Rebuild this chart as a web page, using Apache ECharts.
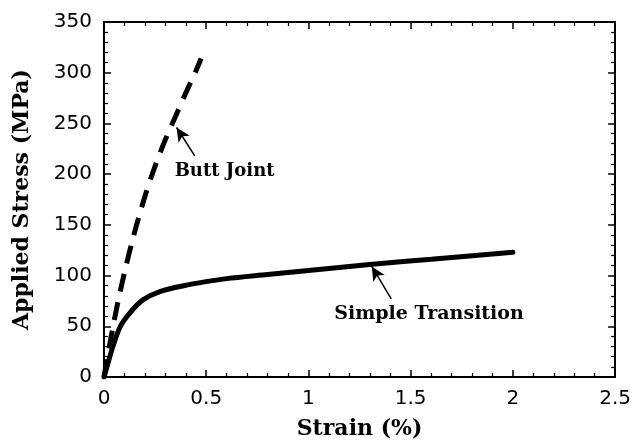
<!DOCTYPE html>
<html>
<head>
<meta charset="utf-8">
<script src="https://cdn.jsdelivr.net/npm/echarts@6/dist/echarts.min.js"></script>
<style>
html,body{margin:0;padding:0;background:#fff;}
#chart{width:634px;height:445px;}
</style>
</head>
<body>
<div id="chart"></div>
<script>
// ---- data ----
var xTicks = [0, 0.5, 1, 1.5, 2, 2.5];
var yTicks = [0, 50, 100, 150, 200, 250, 300, 350];

var buttStrain = [0, 0.05, 0.1, 0.15, 0.2, 0.25, 0.3, 0.35, 0.4, 0.45, 0.475];
var buttStress = [0, 56, 103, 143, 178, 208, 234, 257, 280, 302, 314];

var simpleStrain = [0, 0.02, 0.045, 0.08, 0.13, 0.19, 0.27, 0.39, 0.5, 0.6, 0.8, 1.0, 1.3, 1.6, 2.0];
var simpleStress = [0, 14, 31, 50, 64, 76, 84, 90, 94, 97, 101, 105, 111, 116, 123];

var labelButt = 'Butt Joint';
var labelSimple = 'Simple Transition';
var xTitle = 'Strain (%)';
var yTitle = 'Applied Stress (MPa)';

// annotation anchors (data coordinates): text centre, arrow tail, arrow tip
var buttNote = {text: [0.59, 203], tail: [0.444, 218], tip: [0.355, 246]};
var simpleNote = {text: [1.59, 62], tail: [1.405, 77], tip: [1.31, 109]};

function zip(a, b) { return a.map(function (v, i) { return [v, b[i]]; }); }

var chart = echarts.init(document.getElementById('chart'), null, {renderer: 'canvas'});

var tickFont = {fontFamily: 'DejaVu Sans', fontSize: 20, color: '#000'};
var serif = 'DejaVu Serif';

function axisBase(pos, isX, showLabel) {
  return {
    type: 'value',
    position: pos,
    min: isX ? xTicks[0] : yTicks[0],
    max: isX ? xTicks[xTicks.length - 1] : yTicks[yTicks.length - 1],
    interval: isX ? 0.5 : 50,
    axisLine: {show: true, onZero: false, lineStyle: {color: '#000', width: 2}},
    axisTick: {show: true, inside: true, length: 7, lineStyle: {color: '#000', width: 1.5}},
    minorTick: {show: true, splitNumber: 5, length: 4, lineStyle: {color: '#000', width: 1.2}},
    splitLine: {show: false},
    axisLabel: Object.assign({show: showLabel, margin: 12}, tickFont)
  };
}

var xBottom = axisBase('bottom', true, true);
xBottom.name = xTitle;
xBottom.nameLocation = 'middle';
xBottom.nameGap = 41;
xBottom.nameTextStyle = {fontFamily: serif, fontWeight: 'bold', fontSize: 22, color: '#000'};
var xTop = axisBase('top', true, false);

var yLeft = axisBase('left', false, true);
yLeft.name = yTitle;
yLeft.nameLocation = 'middle';
yLeft.nameGap = 71;
yLeft.nameTextStyle = {fontFamily: serif, fontWeight: 'bold', fontSize: 22, color: '#000'};
var yRight = axisBase('right', false, false);

function arrowLine(note) {
  return {
    silent: true,
    symbol: ['none', 'arrow'],
    symbolSize: [10, 14],
    label: {show: false},
    lineStyle: {color: '#000', width: 1.5, type: 'solid'},
    data: [[{coord: note.tail}, {coord: note.tip}]]
  };
}
function notePoint(note, text, size) {
  return {
    silent: true,
    symbol: 'circle',
    symbolSize: 1,
    itemStyle: {color: 'rgba(0,0,0,0)'},
    label: {
      show: true, position: 'inside', formatter: text,
      fontFamily: serif, fontWeight: 'bold', fontSize: size, color: '#000'
    },
    data: [{coord: note.text}]
  };
}

chart.setOption({
  animation: false,
  backgroundColor: '#fff',
  grid: {left: 104, right: 18, top: 22, bottom: 67, containLabel: false},
  xAxis: [xBottom, xTop],
  yAxis: [yLeft, yRight],
  series: [
    {
      name: labelButt,
      type: 'line',
      data: zip(buttStrain, buttStress),
      smooth: 0.3,
      showSymbol: false,
      lineStyle: {color: '#000', width: 5, type: [18, 11], cap: 'butt'},
      markLine: arrowLine(buttNote),
      markPoint: notePoint(buttNote, labelButt, 18)
    },
    {
      name: labelSimple,
      type: 'line',
      data: zip(simpleStrain, simpleStress),
      smooth: 0.3,
      showSymbol: false,
      lineStyle: {color: '#000', width: 5, cap: 'round'},
      markLine: arrowLine(simpleNote),
      markPoint: notePoint(simpleNote, labelSimple, 19)
    }
  ]
});
</script>
</body>
</html>
